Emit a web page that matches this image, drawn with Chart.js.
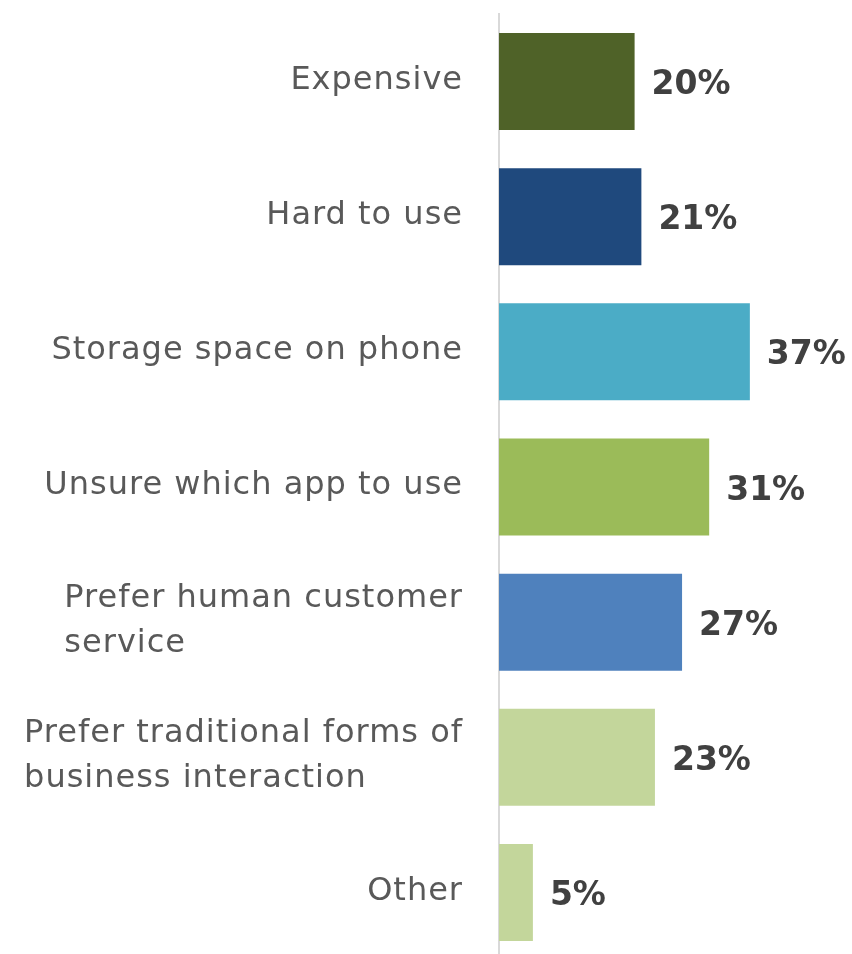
<!DOCTYPE html>
<html>
<head>
<meta charset="utf-8">
<script src="https://cdn.jsdelivr.net/npm/chart.js@4"></script>
<style>
  html, body { margin: 0; padding: 0; background: #fff; overflow: hidden; }
  #wrap { width: 852px; height: 962px; }
</style>
</head>
<body>
<div id="wrap"><canvas id="chart" width="852" height="962"></canvas></div>
<script>
const categories = [
    ['Expensive'],
    ['Hard to use'],
    ['Storage space on phone'],
    ['Unsure which app to use'],
    ['Prefer human customer', 'service'],
    ['Prefer traditional forms of', 'business interaction'],
    ['Other']
];
const shares = [20, 21, 37, 31, 27, 23, 5];
const barColors = ['#4f6228', '#1f497d', '#4bacc6', '#9bbb59', '#4f81bd', '#c3d69b', '#c3d69b'];

const LABEL_FONT = '400 32px "DejaVu Sans"';
const VALUE_FONT = '700 33px "DejaVu Sans"';

// category names: right-aligned block, lines left-aligned inside it
const categoryLabels = {
    id: 'categoryLabels',
    afterDraw(chart) {
        const ctx = chart.ctx;
        const yScale = chart.scales.y;
        const rightEdge = chart.chartArea.left - 37;
        const lineHeight = 45;
        ctx.save();
        ctx.font = LABEL_FONT;
        ctx.letterSpacing = '1px';
        ctx.fillStyle = '#595959';
        ctx.textAlign = 'left';
        ctx.textBaseline = 'middle';
        categories.forEach((lines, i) => {
            const cy = yScale.getPixelForValue(i);
            const maxW = Math.max(...lines.map(l => ctx.measureText(l).width)) - 1;
            const x = rightEdge - maxW;
            const y0 = cy - (lines.length - 1) * lineHeight / 2 - 1;
            lines.forEach((l, k) => ctx.fillText(l, x, y0 + k * lineHeight));
        });
        ctx.restore();
    }
};

// percentage value after each bar
const valueLabels = {
    id: 'valueLabels',
    afterDatasetsDraw(chart) {
        const ctx = chart.ctx;
        const meta = chart.getDatasetMeta(0);
        ctx.save();
        ctx.font = VALUE_FONT;
        ctx.fillStyle = '#404040';
        ctx.textAlign = 'left';
        ctx.textBaseline = 'middle';
        meta.data.forEach((bar, i) => {
            ctx.fillText(shares[i] + '%', bar.x + 17, bar.y + 4);
        });
        ctx.restore();
    }
};

new Chart(document.getElementById('chart'), {
    type: 'bar',
    data: {
        labels: categories.map(c => c.join(' ')),
        datasets: [{
            data: shares,
            backgroundColor: barColors,
            borderWidth: 0,
            barPercentage: 0.718,
            categoryPercentage: 1
        }]
    },
    options: {
        indexAxis: 'y',
        responsive: false,
        animation: false,
        layout: { padding: { left: 491, right: 14, top: 14, bottom: 2 } },
        plugins: { legend: { display: false }, tooltip: { enabled: false } },
        scales: {
            x: {
                min: 0,
                max: 50,
                display: false
            },
            y: {
                ticks: { display: false },
                grid: { display: false },
                border: { display: true, color: '#d9d9d9', width: 2 }
            }
        }
    },
    plugins: [categoryLabels, valueLabels]
});
</script>
</body>
</html>
